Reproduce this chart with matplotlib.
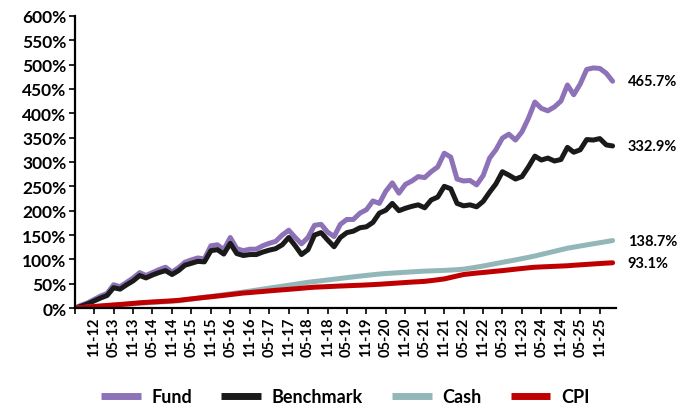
import matplotlib
matplotlib.use('Agg')
import matplotlib.pyplot as plt
import pandas as pd

# cumulative return (%) every second month, May 2012 .. Mar 2026
start_month = '2012-05'
fund = [0, 6, 11, 18, 25, 30, 48, 44, 53, 62,
        73, 67, 73, 79, 84, 74, 83, 94, 99, 103,
        101, 128, 130, 120, 145, 122, 118, 121, 121, 128,
        133, 137, 150, 160, 145, 132, 145, 170, 172, 156,
        147, 172, 182, 182, 195, 202, 220, 215, 240, 257,
        236, 254, 261, 270, 268, 280, 290, 318, 310, 265,
        261, 262, 253, 272, 308, 325, 349, 357, 345, 362,
        390, 423, 410, 405, 413, 425, 458, 438, 460, 490,
        493, 492, 482, 465.7]
benchmark = [0, 4, 9, 15, 21, 26, 42, 39, 48, 56,
             67, 62, 68, 73, 77, 69, 77, 88, 92, 96,
             95, 118, 120, 111, 133, 112, 108, 110, 110, 115,
             119, 122, 130, 145, 128, 110, 120, 150, 155, 140,
             126, 145, 155, 158, 165, 167, 176, 195, 201, 215,
             200, 205, 209, 212, 206, 222, 228, 250, 245, 215,
             210, 212, 208, 219, 238, 255, 280, 273, 265, 270,
             290, 312, 304, 308, 302, 305, 330, 320, 325, 346,
             345, 348, 335, 332.9]
cash = [0, 1, 2, 3, 4, 5, 6, 7, 8, 9,
        10, 10.8, 11.6, 12.5, 13.3, 14.2, 15, 16.8, 18.6, 20.4,
        22.2, 24, 25.8, 27.6, 29.4, 31.2, 33, 35, 37, 39,
        41, 43, 45, 47, 49, 51, 53, 54.6, 56.2, 57.8,
        59.4, 61, 62.6, 64.2, 65.7, 67.2, 68.6, 70, 71, 71.9,
        72.8, 73.6, 74.4, 75.2, 76, 76.5, 77, 77.5, 78.2, 79,
        80, 82, 84.2, 86.5, 89, 91.5, 94, 96.5, 99, 101.6,
        104.3, 107, 110.2, 113.4, 116.6, 119.8, 123, 125.2, 127.5, 129.8,
        132.1, 134.3, 136.5, 138.7]
cpi = [0, 1.2, 2.3, 3.3, 4.5, 5.5, 6.5, 7.5, 8.6, 9.8,
       11, 11.8, 12.7, 13.4, 14.2, 15, 16, 17.5, 19, 20.5,
       22, 23.3, 24.8, 26.2, 27.8, 29.4, 31, 32, 33.2, 34.2,
       35.4, 36.5, 37.6, 38.6, 39.7, 40.8, 42, 43, 43.6, 44.2,
       44.8, 45.4, 45.9, 46.5, 47, 47.6, 48.3, 49, 49.9, 50.8,
       51.7, 52.6, 53.5, 54.2, 55, 56.5, 58.2, 60, 63, 66,
       69, 70.5, 72, 73.2, 74.5, 75.8, 77, 78.5, 80, 81.4,
       82.8, 84, 84.6, 85.2, 85.8, 86.4, 87, 88, 88.9, 89.8,
       90.7, 91.6, 92.4, 93.1]

series = [('Fund', fund, '#8E72B8'),
          ('Benchmark', benchmark, '#1A1A1A'),
          ('Cash', cash, '#93B7B9'),
          ('CPI', cpi, '#C00000')]

dates = pd.date_range(start_month, periods=len(fund), freq='2MS')
tick_dates = pd.date_range('2012-05', '2025-11', freq='6MS')
# first tick sits on the origin and has no label
tick_labels = [''] + [d.strftime('%m-%y') for d in tick_dates[1:]]

plt.rcParams['font.family'] = ['Lato', 'DejaVu Sans']
plt.rcParams['font.weight'] = 'bold'

fig = plt.figure(figsize=(6.92, 4.10), dpi=100)
ax = fig.add_axes([0.108, 0.246, 0.782, 0.713])

for name, values, colour in series:
    ax.plot(dates, values, color=colour, linewidth=3.6, label=name, solid_capstyle='round')
    ax.annotate(f'{values[-1]:.1f}%', xy=(dates[-1], values[-1]), xytext=(11, 0),
                textcoords='offset points', va='center', ha='left', fontsize=10.5, fontweight='bold')

ax.set_ylim(0, 600)
ax.set_yticks(range(0, 601, 50))
ax.set_yticklabels([f'{v}%' for v in range(0, 601, 50)], fontsize=12.5, fontweight='bold')

ax.set_xlim(pd.Timestamp('2012-05-01'), pd.Timestamp('2026-04-01'))
ax.set_xticks(tick_dates)
ax.set_xticklabels(tick_labels, rotation=90, fontsize=10.5, fontweight='bold')

ax.spines['top'].set_visible(False)
ax.spines['right'].set_visible(False)
ax.spines['left'].set_linewidth(1.6)
ax.spines['bottom'].set_linewidth(1.6)
ax.tick_params(axis='both', direction='out', length=4, width=1.2, pad=2)

leg = ax.legend(loc='center', bbox_to_anchor=(0.5, -0.302), ncol=4, frameon=False,
                prop={'size': 13, 'weight': 'bold'}, handlelength=2.2,
                handletextpad=0.6, columnspacing=1.6)
for line in leg.get_lines():
    line.set_linewidth(5)
    line.set_solid_capstyle('butt')

fig.savefig('out.png', dpi=100)
